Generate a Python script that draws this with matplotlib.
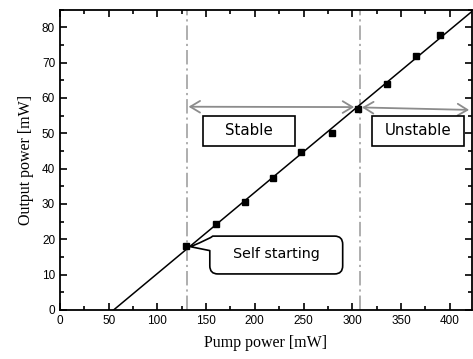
import numpy as np
import matplotlib
matplotlib.use('Agg')
import matplotlib.pyplot as plt
from matplotlib.ticker import MultipleLocator
from matplotlib.patches import Rectangle, PathPatch
from matplotlib.path import Path

# measured output power vs pump power
pump = [129.6, 160.6, 189.6, 219.0, 247.6, 279.0, 305.5, 335.2, 365.0, 389.8]
output = [18.2, 24.4, 30.5, 37.2, 44.6, 50.0, 56.8, 64.0, 71.9, 77.8]

self_start = 130   # mW, threshold for self starting
unstable_at = 308  # mW, onset of unstable operation

fig = plt.figure(figsize=(4.73, 3.59), dpi=100)
ax = fig.add_axes([0.1268, 0.1365, 0.8712, 0.837])
ax.set_xlim(0, 423)
ax.set_ylim(0, 85)

# linear fit through the measurements
slope, icpt = np.polyfit(pump, output, 1)
x0 = -icpt / slope
xf = np.array([x0, 425])
ax.plot(xf, slope * xf + icpt, color='black', lw=1.1, zorder=3)
ax.plot(pump, output, 's', color='black', ms=5, zorder=4)

gray = '#a8a8a8'
dd = (0, (8, 2.2, 1.2, 2.2))
ax.axvline(self_start, color=gray, lw=1.3, ls=dd, zorder=1)
ax.axvline(unstable_at, color=gray, lw=1.3, ls=dd, zorder=1)

# operating regions
arrow_kw = dict(arrowstyle='<->,head_length=0.5,head_width=0.3', color='#8c8c8c',
                lw=1.3, mutation_scale=14, shrinkA=0, shrinkB=0)
ax.annotate('', xy=(132, 57.5), xytext=(302, 57.4), arrowprops=arrow_kw)
ax.annotate('', xy=(310, 57.3), xytext=(420, 56.6), arrowprops=arrow_kw)

box_font = dict(family='DejaVu Sans', size=10.8)
for (bx0, bx1), label in [((146.6, 241.4), 'Stable'), ((319.9, 414.6), 'Unstable')]:
    ax.add_patch(Rectangle((bx0, 46.4), bx1 - bx0, 8.6, fc='white', ec='black',
                           lw=1.2, zorder=5))
    ax.text((bx0 + bx1) / 2, 50.8, label, ha='center', va='center',
            fontdict=box_font, zorder=6)

# "Self starting" callout: rounded box with a pointer to the threshold point
cx0, cx1, cy0, cy1 = 153.8, 290.2, 10.2, 20.9
rx, ry = 8.2, 2.3
tip = (134, 17.9)
verts = [(cx0 + rx, cy1), (cx1 - rx, cy1), (cx1, cy1), (cx1, cy1 - ry),
         (cx1, cy0 + ry), (cx1, cy0), (cx1 - rx, cy0),
         (cx0 + rx, cy0), (cx0, cy0), (cx0, cy0 + ry),
         (cx0, 16.8), tip, (cx0 + 1, cy1 - 0.6), (cx0 + 3, cy1), (cx0 + rx, cy1),
         (cx0 + rx, cy1)]
codes = [Path.MOVETO, Path.LINETO, Path.CURVE3, Path.CURVE3,
         Path.LINETO, Path.CURVE3, Path.CURVE3,
         Path.LINETO, Path.CURVE3, Path.CURVE3,
         Path.LINETO, Path.LINETO, Path.CURVE3, Path.CURVE3, Path.LINETO,
         Path.CLOSEPOLY]
ax.add_patch(PathPatch(Path(verts, codes), fc='white', ec='black', lw=1.2,
                       joinstyle='round', zorder=5))
ax.text((cx0 + cx1) / 2, 15.7, 'Self starting', ha='center', va='center',
        family='DejaVu Sans', fontsize=10.3, zorder=6)

ax.xaxis.set_major_locator(MultipleLocator(50))
ax.xaxis.set_minor_locator(MultipleLocator(25))
ax.yaxis.set_major_locator(MultipleLocator(10))
ax.yaxis.set_minor_locator(MultipleLocator(5))
ax.tick_params(which='both', direction='in', top=True, right=True, width=1.2)
ax.tick_params(which='major', length=5, labelsize=8.5)
ax.tick_params(which='minor', length=3)
for lab in ax.get_xticklabels() + ax.get_yticklabels():
    lab.set_family('Liberation Sans')
for sp in ax.spines.values():
    sp.set_linewidth(1.3)

ax.set_xlabel('Pump power [mW]', family='Liberation Serif', fontsize=11.5, labelpad=6)
ax.set_ylabel('Output power [mW]', family='Liberation Serif', fontsize=11.5, labelpad=6)

fig.savefig('out.png', dpi=100)
